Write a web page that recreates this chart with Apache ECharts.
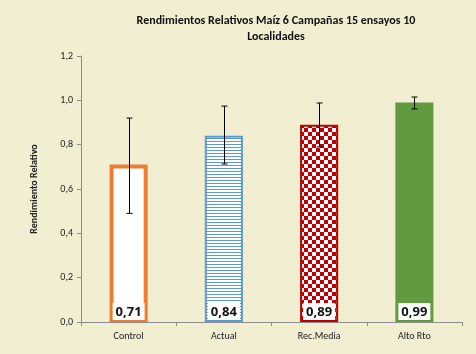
<!DOCTYPE html>
<html><head><meta charset="utf-8">
<script src="https://cdn.jsdelivr.net/npm/echarts@6/dist/echarts.min.js"></script>
<style>html,body{margin:0;padding:0;background:#F2EED2;}#c{width:476px;height:354px;}</style>
</head><body><div id="c"></div>
<script>
const categories = ['Control', 'Actual', 'Rec.Media', 'Alto Rto'];
const values = [0.71, 0.84, 0.89, 0.99];
const errLow = [0.49, 0.713, 0.79, 0.961];
const errHigh = [0.92, 0.974, 0.988, 1.015];
const yTicks = [0, 0.2, 0.4, 0.6, 0.8, 1.0, 1.2];

function linesPattern() {
  const c = document.createElement('canvas'); c.width = 4; c.height = 3;
  const g = c.getContext('2d');
  g.fillStyle = '#ffffff'; g.fillRect(0, 0, 4, 3);
  g.fillStyle = '#5B9BD5'; g.fillRect(0, 0, 4, 1);
  return c;
}
function checkPattern() {
  const c = document.createElement('canvas'); c.width = 8; c.height = 8;
  const g = c.getContext('2d');
  g.fillStyle = '#ffffff'; g.fillRect(0, 0, 8, 8);
  g.fillStyle = '#C00000'; g.fillRect(0, 0, 4, 4); g.fillRect(4, 4, 4, 4);
  return c;
}
const styles = [
  { color: '#ffffff', borderColor: '#ED7D31', borderWidth: 4 },
  { color: { image: linesPattern(), repeat: 'repeat' }, borderColor: '#5B9BD5', borderWidth: 2 },
  { color: { image: checkPattern(), repeat: 'repeat' }, borderColor: '#C00000', borderWidth: 2 },
  { color: '#629A3F', borderColor: '#629A3F', borderWidth: 0 }
];

const chart = echarts.init(document.getElementById('c'), null, { renderer: 'canvas' });
chart.setOption({
  backgroundColor: '#F2EED2',
  animation: false,
  title: {
    text: 'Rendimientos Relativos Maíz 6 Campañas 15 ensayos 10\nLocalidades',
    left: 271, top: 8, textAlign: 'center',
    textStyle: { fontFamily: 'Carlito, Lato', fontSize: 12, fontWeight: 'bold', color: '#111', lineHeight: 16 }
  },
  grid: { left: 81, right: 14, top: 56, bottom: 32 },
  xAxis: {
    type: 'category', data: categories,
    axisLine: { lineStyle: { color: '#8C8C8C' } },
    axisTick: { show: true, alignWithLabel: false, length: 4, lineStyle: { color: '#8C8C8C' } },
    axisLabel: { color: '#222', fontFamily: 'Carlito, Lato', fontSize: 10, margin: 9 }
  },
  yAxis: {
    type: 'value', min: 0, max: 1.2, interval: 0.2,
    name: 'Rendimiento Relativo', nameLocation: 'middle', nameGap: 42, nameRotate: 90,
    nameTextStyle: { fontFamily: 'Carlito, Lato', fontSize: 10, fontWeight: 'bold', color: '#222' },
    axisLine: { show: true, lineStyle: { color: '#8C8C8C' } },
    axisTick: { show: true, length: 4, lineStyle: { color: '#8C8C8C' } },
    splitLine: { show: false },
    axisLabel: { color: '#222', fontFamily: 'Carlito, Lato', fontSize: 10, margin: 8,
      formatter: v => v.toFixed(1).replace('.', ',') }
  },
  series: [
    {
      type: 'bar', barWidth: '40%',
      data: values.map((v, i) => ({ value: v, itemStyle: styles[i] })),
      label: {
        show: true, position: 'insideBottom', distance: 2,
        formatter: p => p.value.toFixed(2).replace('.', ','),
        backgroundColor: '#ffffff', padding: [3, 3, 1, 3],
        fontFamily: 'Open Sans', fontWeight: 'bold', fontSize: 13, color: '#111'
      }
    },
    {
      type: 'custom',
      data: categories.map((c, i) => [i, errLow[i], errHigh[i]]),
      renderItem: function (params, api) {
        const lo = api.coord([api.value(0), api.value(1)]);
        const hi = api.coord([api.value(0), api.value(2)]);
        const x = Math.round(lo[0]) + 0.5;
        const w = 3;
        const st = { stroke: '#000', lineWidth: 1 };
        return { type: 'group', children: [
          { type: 'line', shape: { x1: x, y1: hi[1], x2: x, y2: lo[1] }, style: st },
          { type: 'line', shape: { x1: x - w, y1: hi[1], x2: x + w, y2: hi[1] }, style: st },
          { type: 'line', shape: { x1: x - w, y1: lo[1], x2: x + w, y2: lo[1] }, style: st }
        ]};
      },
      z: 10
    }
  ]
});
</script></body></html>
